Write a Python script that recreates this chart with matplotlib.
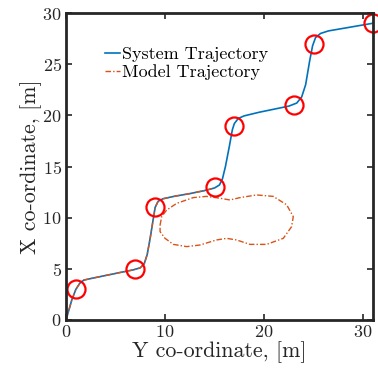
import numpy as np
import matplotlib
matplotlib.use("Agg")
from matplotlib import pyplot as plt

plt.rcParams['font.family'] = 'cmr10'
plt.rcParams['mathtext.fontset'] = 'cm'
plt.rcParams['axes.formatter.use_mathtext'] = True

# waypoints (Y, X)
way_y = [1, 7, 9, 15, 17, 23, 25, 31]
way_x = [3, 5, 11, 13, 19, 21, 27, 29]

# system trajectory
sys_y = [0, 0.3, 0.6, 1.0, 1.4, 1.8, 2.5, 4, 5.5, 6.8, 7.5, 7.9, 8.2, 8.5, 8.8, 9.0,
         9.3, 9.8, 11, 12.5, 14, 15, 15.5, 15.8, 16.1, 16.5, 16.8, 17.0, 17.4, 18,
         19.5, 21, 22.5, 23.3, 23.8, 24.2, 24.6, 24.9, 25.2, 25.7, 26.5, 28, 29.5, 31]
sys_x = [0, 1.0, 2.0, 3.0, 3.6, 3.9, 4.05, 4.35, 4.65, 4.9, 5.1, 5.5, 6.4, 8.0, 9.8, 11.0,
         11.6, 11.85, 12.1, 12.35, 12.65, 12.9, 13.2, 13.8, 15.0, 17.0, 18.6, 19.2, 19.7, 19.95,
         20.3, 20.6, 20.9, 21.2, 21.8, 23.0, 25.3, 26.8, 27.6, 28.0, 28.25, 28.5, 28.75, 29.0]

# model trajectory: follows the system up to Y=15, then the closed loop
n_follow = 22
loop_y = [9.5, 9.66, 10.17, 11.18, 12.85, 14.2, 15.55, 16.56, 17.57, 19.25, 20.93, 22.28,
          22.95, 22.78, 21.94, 20.26, 18.58, 17.23, 16.22, 15.2, 13.53, 12.19, 10.84,
          10.0, 9.5, 9.5]
loop_x = [9.28, 10.1, 10.75, 11.4, 11.96, 12.08, 11.9, 11.73, 11.96, 12.22, 12.08, 11.26,
          10.1, 9.12, 7.98, 7.39, 7.39, 7.82, 7.98, 7.82, 7.33, 7.17, 7.39,
          7.98, 8.63, 9.28]
mod_y = sys_y[:n_follow] + [np.nan] + loop_y
mod_x = sys_x[:n_follow] + [np.nan] + loop_x

fig = plt.figure(figsize=(3.78, 3.79), dpi=100)
ax = fig.add_axes([66/378, 59/379, 307/378, 307/379])

ax.plot(sys_y, sys_x, color='#0072BD', lw=1.2, label='System Trajectory')
ax.plot(mod_y, mod_x, color='#D95319', lw=1.0, ls='-.', dashes=(4, 1.5, 1, 1.5),
        label='Model Trajectory')
ax.plot(way_y, way_x, 'o', mfc='none', mec='#FF0000', ms=13, mew=1.6, clip_on=False)

ax.set_xlim(0, 31)
ax.set_ylim(0, 30)
ax.set_xticks([0, 10, 20, 30])
ax.set_yticks([0, 5, 10, 15, 20, 25, 30])
ax.tick_params(direction='in', length=4, width=1.2, top=True, right=True,
               labelsize=13, colors='#262626', pad=3)
for s in ax.spines.values():
    s.set_linewidth(2.0)
    s.set_color('#262626')
ax.set_xlabel('Y co-ordinate, [m]', fontsize=15.8, color='#262626', labelpad=1)
ax.set_ylabel('X co-ordinate, [m]', fontsize=15.8, color='#262626', labelpad=0)

ax.legend(loc='upper left', bbox_to_anchor=(0.105, 0.915), frameon=False, fontsize=13,
          handlelength=0.8, handletextpad=0.1, borderaxespad=0, labelspacing=0.15)

fig.savefig('out.png', dpi=100)
